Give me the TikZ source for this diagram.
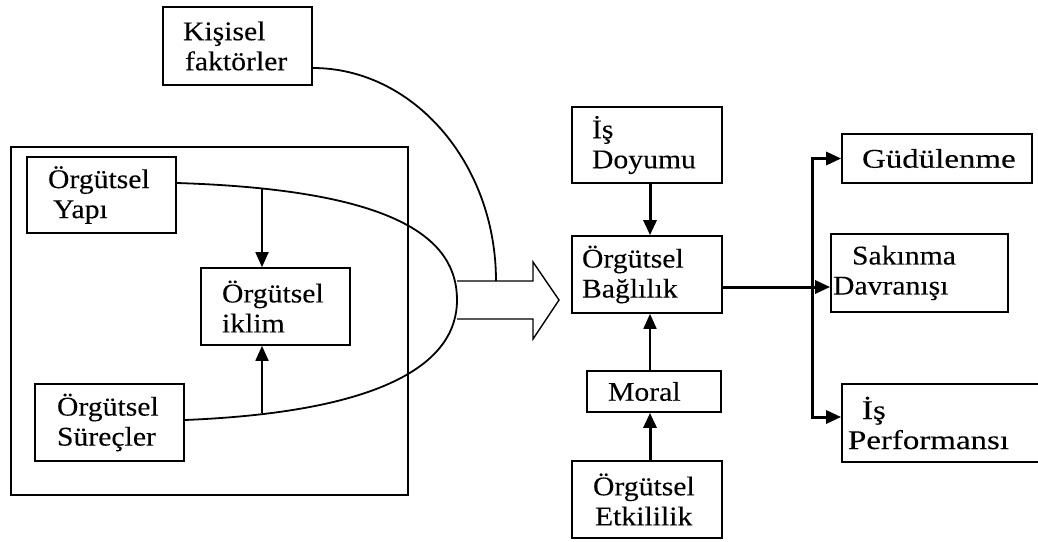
\documentclass[tikz,border=0pt]{standalone}
\usepackage{fontspec}
\setmainfont{Liberation Serif}[FakeStretch=1.1,FakeBold=0.15]
\newfontfamily\widefont{Liberation Serif}[FakeStretch=1.22,FakeBold=0.15]
\usetikzlibrary{arrows.meta}
\begin{document}
\begin{tikzpicture}[x=1pt,y=-1pt,
  bx/.style={draw,line width=1.7pt,inner xsep=0pt,inner ysep=0pt,align=left,
    font=\fontsize{27}{30}\selectfont},
  wbx/.style={bx,font=\widefont\fontsize{27}{30}\selectfont},
  tip/.style={-{Triangle[length=15pt,width=13pt]}},
  thn/.style={line width=1.8pt},
  thk/.style={line width=3pt}]
\useasboundingbox (0,0) rectangle (1038,541);
\clip (0,0) rectangle (1038,541);
% container
\node[draw,line width=2.2pt,minimum width=397pt,minimum height=348pt,inner sep=0pt] (cont) at (209.5,321) {};
% left boxes
\node[bx,text width=149pt,minimum height=78pt] (kis) at (237.5,46) {\hspace*{20pt}Kişisel\\\hspace*{22pt}faktörler};
\node[bx,text width=149pt,minimum height=76pt] (yapi) at (101.5,195) {\hspace*{21pt}Örgütsel\\\hspace*{26pt}Yapı};
\node[bx,text width=149pt,minimum height=77pt] (ikl) at (275.5,306.5) {\hspace*{21pt}Örgütsel\\\hspace*{21pt}iklim};
\node[bx,text width=149pt,minimum height=77pt] (surec) at (109.5,422.5) {\hspace*{22pt}Örgütsel\\\hspace*{22pt}Süreçler};
% middle column
\node[bx,text width=150pt,minimum height=76pt] (doy) at (647,145) {\hspace*{20pt}İş\\\hspace*{20pt}Doyumu};
\node[bx,text width=150pt,minimum height=77pt] (bag) at (647,274.5) {\hspace*{10pt}Örgütsel\\\hspace*{10pt}Bağlılık};
\node[bx,text width=134pt,minimum height=41pt] (mor) at (654,391.5) {\hspace*{21pt}Moral};
\node[bx,text width=150pt,minimum height=77pt] (etk) at (647,499.5) {\hspace*{21pt}Örgütsel\\\hspace*{23pt}Etkililik};
% right column
\node[wbx,text width=190pt,minimum height=49pt] (gud) at (937,158.5) {\hspace*{20pt}Güdülenme};
\node[bx,text width=177pt,minimum height=78pt] (sak) at (919.5,273) {\hspace*{21pt}Sakınma\\\hspace*{2pt}Davranışı};
\node[wbx,text width=203pt,minimum height=78pt] (perf) at (943.5,423) {\hspace*{20pt}İş\\\hspace*{6pt}Performansı};
% curve enclosing left factors
\draw[thn] ([yshift=12pt]yapi.east) .. controls (400,190) and (457,240) .. (457,300)
  .. controls (457,365) and (380,412) .. ([yshift=2.5pt]surec.east);
\coordinate (j1) at (262,188);
\coordinate (j2) at (262,413);
\draw[thn,tip] (j1) -- (j1 |- ikl.north);
\draw[thn,tip] (j2) -- (j2 |- ikl.south);
% hollow arrow
\draw[line width=1.4pt] (457,281) -- (533,281) -- (533,262) -- (559,300) -- (533,339) -- (533,319) -- (457,319);
% personal factors curve
\coordinate (k1) at (496,281);
\draw[thn] ([yshift=-22pt]kis.east) .. controls (413,68) and (496,163) .. (k1);
% middle arrows
\coordinate (cx) at (650,0);
\draw[thk,tip] (cx |- doy.south) -- (cx |- bag.north);
\draw[thn,tip] (cx |- mor.north) -- (cx |- bag.south);
\draw[thk,tip] (cx |- etk.north) -- (cx |- mor.south);
% outputs
\coordinate (b1) at (812,287);
\coordinate (pf) at ([yshift=6pt]perf.west);
\draw[thk,tip] ([yshift=-12.5pt]bag.east) -- ([yshift=-14pt]sak.west);
\draw[thk,tip] (b1) -- (b1 |- gud.west) -- (gud.west);
\draw[thk,tip] (b1) -- (b1 |- pf) -- (pf);
\end{tikzpicture}
\end{document}
